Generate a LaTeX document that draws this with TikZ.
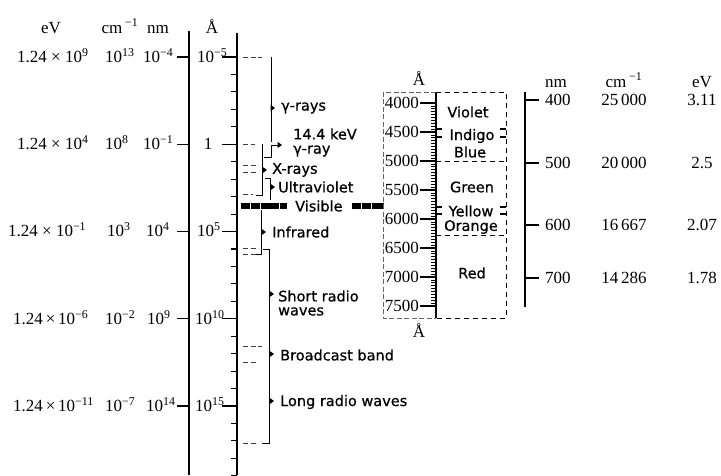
\documentclass[tikz,border=0pt]{standalone}
\usepackage{fontspec}
\setmainfont{Liberation Serif}
\newfontfamily\labfont[FakeBold=0.6]{DejaVu Sans}
\newcommand\sx[1]{\textsuperscript{#1}}
\begin{document}
\begin{tikzpicture}[x=1pt,y=-1pt,
  num/.style={font=\fontsize{17}{18}\selectfont, inner sep=0pt},
  lab/.style={font=\labfont\fontsize{14.5}{14}\selectfont, inner sep=0pt, anchor=west, align=left},
  clab/.style={font=\labfont\fontsize{14.5}{14}\selectfont, inner sep=0pt},
  axisline/.style={line width=1.3pt},
  tk/.style={line width=1.1pt},
  lead/.style={line width=0.6pt, dash pattern=on 5pt off 2.5pt, black!75},
  boxdash/.style={line width=1pt, dash pattern=on 5pt off 4pt},
  brk/.style={line width=1pt},
  band/.style={line width=6pt, dash pattern=on 9pt off 0.8pt}
]
\newcommand\pointer[2]{\fill (#1-0.5,#2-3.2) -- (#1+4,#2) -- (#1-0.5,#2+3.2) -- cycle;}
\useasboundingbox (0,0) rectangle (721,475);

% ---------------- main axes ----------------
\draw[axisline] (189,31) coordinate (nmtop) -- (189,475) coordinate (nmbot);
\draw[axisline] (237,33) coordinate (atop) -- (237,475) coordinate (abot);
\foreach \k in {1,...,24}{
  \pgfmathsetmacro\yy{57+17.45*\k}
  \draw[tk] (231,\yy) -- (237,\yy);
}
\foreach \k in {0,...,4}{
  \pgfmathsetmacro\yy{57+87.25*\k}
  \draw[tk] (177,\yy) -- (189,\yy);
  \draw[tk] (222,\yy) -- (237,\yy);
}

% headers
\node[num, anchor=base] (heV) at (51,33) {eV};
\node[num, anchor=base] (hcm) at (120,33) {cm\,\sx{−1}};
\node[num, anchor=base] (hnm) at (158,33) {nm};
\node[num, anchor=base] (hA) at (212,33) {Å};

% rows
\node[num, anchor=base west] (e1) at (17,62.5) {1.24 × 10\sx{9}};
\node[num, anchor=base west] (e2) at (17,149.5) {1.24 × 10\sx{4}};
\node[num, anchor=base west] (e3) at (8,236.5) {1.24 × 10\sx{−1}};
\node[num, anchor=base west] (e4) at (13,324.5) {1.24\,×\,10\sx{−6}};
\node[num, anchor=base west] (e5) at (13,411.5) {1.24\,×\,10\sx{−11}};

\node[num, anchor=base west] (c1) at (105,62.5) {10\sx{13}};
\node[num, anchor=base west] (c2) at (105,149.5) {10\sx{8}};
\node[num, anchor=base west] (c3) at (107,236.5) {10\sx{3}};
\node[num, anchor=base west] (c4) at (105,324.5) {10\sx{−2}};
\node[num, anchor=base west] (c5) at (105,411.5) {10\sx{−7}};

\node[num, anchor=base west] (n1) at (143,62.5) {10\sx{−4}};
\node[num, anchor=base west] (n2) at (143,149.5) {10\sx{−1}};
\node[num, anchor=base west] (n3) at (146,236.5) {10\sx{4}};
\node[num, anchor=base west] (n4) at (147,324.5) {10\sx{9}};
\node[num, anchor=base west] (n5) at (146,411.5) {10\sx{14}};

\node[num, anchor=base west] (a1) at (197,62.5) {10\sx{−5}};
\node[num, anchor=base] (a2) at (208,149.5) {1};
\node[num, anchor=base west] (a3) at (197,236.5) {10\sx{5}};
\node[num, anchor=base west] (a4) at (195,324.5) {10\sx{10}};
\node[num, anchor=base west] (a5) at (195,411.5) {10\sx{15}};

% ---------------- leaders ----------------
\foreach \yy/\xe in {57/262,144/255,165/258,172/258,194/253,248/258,254/258,346/262,362/258,443/258}{
  \draw[lead] (243,\yy) -- (\xe,\yy);
}

% ---------------- brackets ----------------
\draw[brk] (271,57) -- (271,142);
\pointer{271}{108}
\draw[brk] (264,157) -- (271,157) -- (271,145) -- (278,145);
\pointer{278}{145}
\draw[brk] (262,144) -- (262,195) -- (256,195);
\pointer{263}{170}
\draw[brk] (265,178) -- (270,178) -- (270,200);
\pointer{271}{187}
\draw[brk] (261,210) -- (261,254) -- (256,254);
\pointer{262}{232}
\draw[brk] (263,249) -- (269,249) -- (269,443) -- (262,443);
\pointer{270}{294}
\pointer{270}{354}
\pointer{270}{401}

% visible bands
\draw[band] (241,205.5) -- (287,205.5);
\draw[band] (352,205.5) -- (384,205.5);

% ---------------- labels ----------------
\node[lab] (lgam) at (281,108) {γ-rays};
\node[lab] (lkev) at (293,134) {14.4 keV};
\node[lab] (lgray) at (293,151) {γ-ray};
\node[lab] (lx) at (272,170) {X-rays};
\node[lab] (luv) at (278,187) {Ultraviolet};
\node[lab] (lvis) at (295,206) {Visible};
\node[lab] (lir) at (272,232) {Infrared};
\node[lab] (lsr) at (278,303) {Short radio\\waves};
\node[lab] (lbb) at (280,355) {Broadcast band};
\node[lab] (llr) at (280,402) {Long radio waves};

% ---------------- visible inset ----------------
\draw[axisline] (436,92) coordinate (vtop) -- (436,318) coordinate (vbot);
\foreach \v in {4000,4050,...,7500}{
  \pgfmathsetmacro\yy{103+0.058*(\v-4000)}
  \draw[line width=0.8pt] (431,\yy) -- (436,\yy);
}
\foreach \v in {4000,4500,...,7500}{
  \pgfmathsetmacro\yy{103+0.058*(\v-4000)}
  \draw[tk] (420,\yy) -- (436,\yy);
  \node[num, anchor=base east] at (419,\yy+5.5) {\v};
}
\node[num] (aT) at (419,79) {Å};
\node[num] (aB) at (419,331) {Å};
\draw[lead, black!60] (436,92) -- (383,92) -- (383,318) -- (436,318);
\draw[boxdash] (436,92) -- (506,92) -- (506,318) -- (436,318);
\draw[boxdash] (436,161) -- (506,161);
\draw[boxdash] (436,235) -- (506,235);
\foreach \yy in {129,137,207,214}{
  \draw[tk] (436,\yy) -- (442,\yy);
  \draw[tk] (500,\yy) -- (506,\yy);
}
\node[clab] (cv) at (468,112) {Violet};
\node[clab] (ci) at (472,136) {Indigo};
\node[clab] (cb) at (470,152) {Blue};
\node[clab] (cg) at (472,187) {Green};
\node[clab] (cy) at (471,211) {Yellow};
\node[clab] (co) at (471,227) {Orange};
\node[clab] (cr) at (472,273) {Red};

% ---------------- right scale ----------------
\draw[axisline] (525,92) -- (525,307);
\node[num, anchor=base] (rnm) at (556,87) {nm};
\node[num, anchor=base] (rcm) at (624,87) {cm\,\sx{−1}};
\node[num, anchor=base] (rev) at (702,87) {eV};
\foreach \yy/\nm/\cm/\ev in {100/400/25\,000/3.11,163/500/20\,000/2.5,225/600/16\,667/2.07,278/700/14\,286/1.78}{
  \draw[tk] (525,\yy) -- (539,\yy);
  \node[num, anchor=base west] at (545,\yy+5.5) {\nm};
  \node[num, anchor=base] at (624,\yy+5.5) {\cm};
  \node[num, anchor=base] at (702,\yy+5.5) {\ev};
}
\end{tikzpicture}
\end{document}
